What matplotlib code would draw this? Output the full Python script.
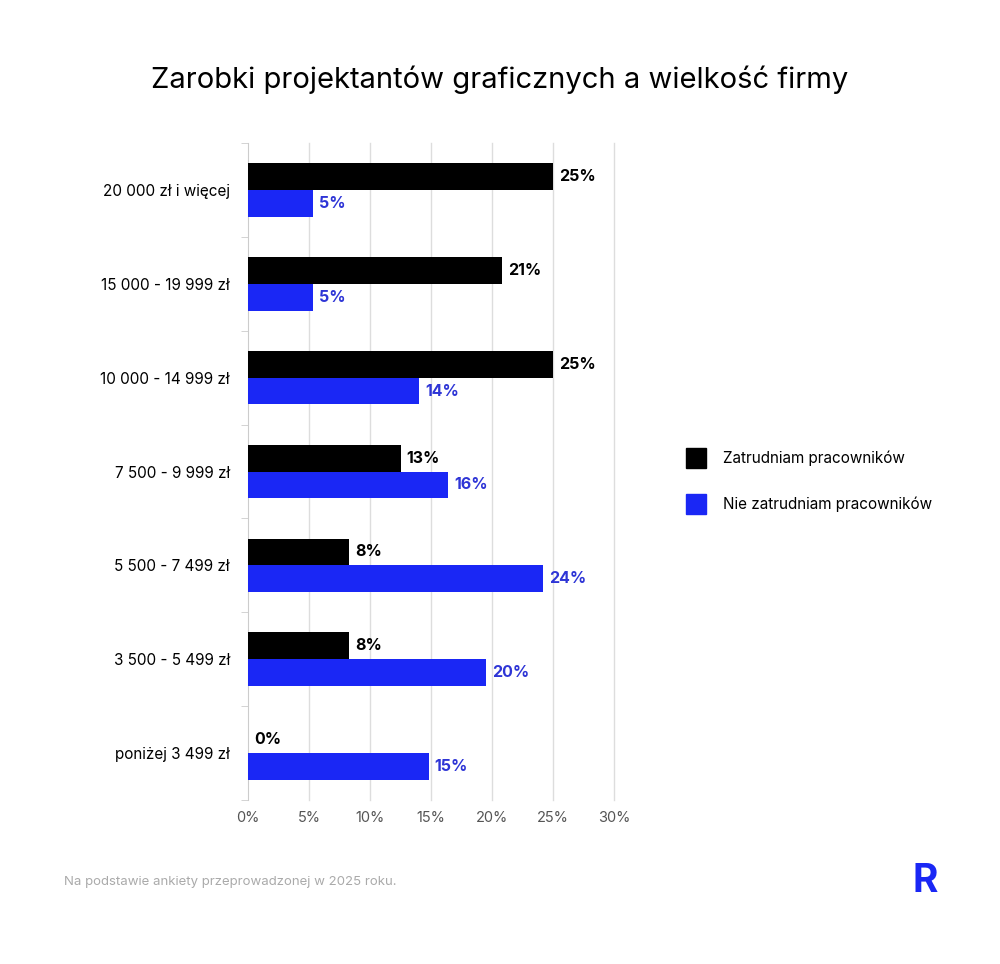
import matplotlib
matplotlib.use("Agg")
import matplotlib.pyplot as plt
from matplotlib.patches import Rectangle

plt.rcParams['font.family'] = ['Inter', 'DejaVu Sans']

categories = ["20 000 zł i więcej", "15 000 - 19 999 zł", "10 000 - 14 999 zł",
              "7 500 - 9 999 zł", "5 500 - 7 499 zł", "3 500 - 5 499 zł", "poniżej 3 499 zł"]
employ = [25.0, 20.8, 25.0, 12.5, 8.3, 8.3, 0.0]
employ_lbl = ["25%", "21%", "25%", "13%", "8%", "8%", "0%"]
noemploy = [5.3, 5.3, 14.0, 16.4, 24.2, 19.5, 14.8]
noemploy_lbl = ["5%", "5%", "14%", "16%", "24%", "20%", "15%"]
series_names = ["Zatrudniam pracowników", "Nie zatrudniam pracowników"]
xticks = [0, 5, 10, 15, 20, 25, 30]

BLACK = "#000000"
BLUE = "#1a27f5"
LBLUE = "#2e35d6"

fig = plt.figure(figsize=(10, 9.64), dpi=100)
ax = fig.add_axes([0.248, 1 - 800/964, 0.366, (800-143)/964])

n = len(categories)
h = 0.285
for i in range(n):
    y = i
    ax.barh(y - h/2, employ[i], height=h, color=BLACK, zorder=3)
    ax.barh(y + h/2, noemploy[i], height=h, color=BLUE, zorder=3)
    ax.text(employ[i] + 0.5, y - h/2, employ_lbl[i], va='center', ha='left',
            fontsize=11.5, fontweight='bold', color=BLACK)
    ax.text(noemploy[i] + 0.5, y + h/2, noemploy_lbl[i], va='center', ha='left',
            fontsize=11.5, fontweight='bold', color=LBLUE)

ax.set_ylim(n - 0.5, -0.5)
ax.set_xlim(0, 30)
ax.set_yticks(range(n))
ax.set_yticklabels(categories, fontsize=11)
ax.set_yticks([i + 0.5 for i in range(-1, n)], minor=True)
ax.tick_params(axis='y', which='major', length=0, pad=13)
ax.tick_params(axis='y', which='minor', length=5, color='#cccccc')
ax.set_xticks(xticks)
ax.set_xticklabels([f"{t}%" for t in xticks], fontsize=10.5, color='#555555')
ax.tick_params(axis='x', length=0, pad=8)
for t in xticks[1:]:
    ax.axvline(t, color='#dddddd', linewidth=1, zorder=0, clip_on=False)
for s in ['top', 'right', 'bottom']:
    ax.spines[s].set_visible(False)
ax.spines['left'].set_color('#cccccc')

fig.text(0.5, 1 - 80/964, "Zarobki projektantów graficznych a wielkość firmy",
         ha='center', va='center', fontsize=21)

for name, col, yp in [(series_names[0], BLACK, 458), (series_names[1], BLUE, 504)]:
    fig.patches.append(Rectangle((686/1000, 1 - (yp+10)/964), 20/1000, 20/964,
                                 transform=fig.transFigure, color=col))
    fig.text(723/1000, 1 - yp/964, name, va='center', ha='left', fontsize=11)

fig.text(64/1000, 1 - 882/964, "Na podstawie ankiety przeprowadzonej w 2025 roku.",
         fontsize=9.5, color='#aaaaaa', va='center')
fig.text(925/1000, 1 - 882/964, "R", fontsize=28, color=BLUE, fontweight='bold',
         ha='center', va='center')

fig.savefig("out.png", dpi=100, facecolor='white')
